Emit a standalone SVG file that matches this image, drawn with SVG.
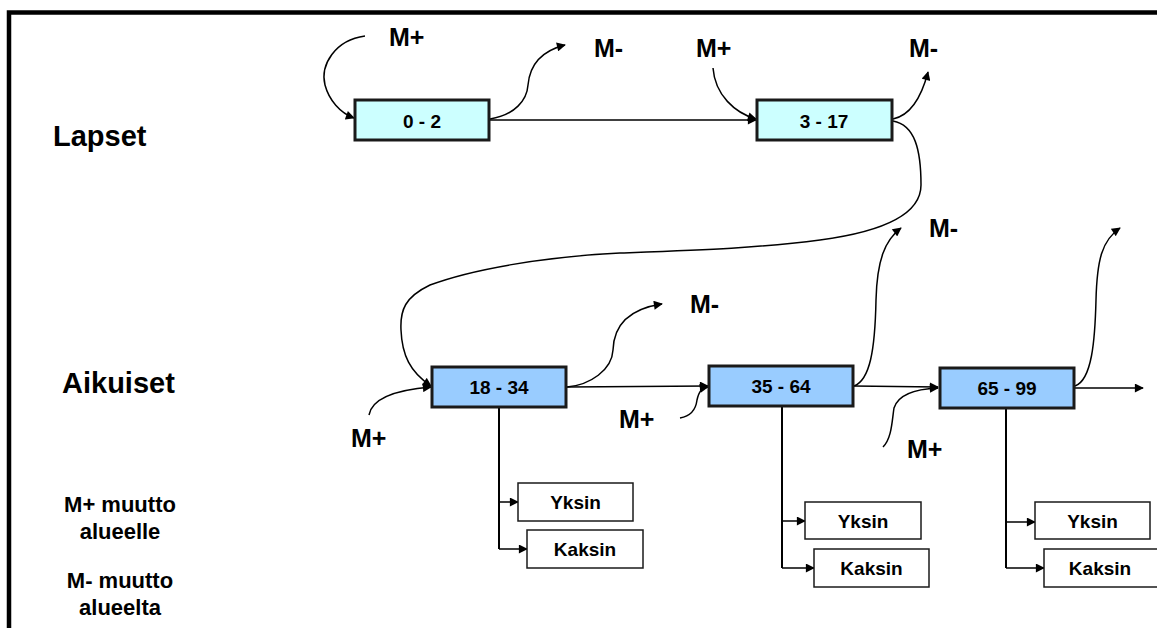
<svg xmlns="http://www.w3.org/2000/svg" width="1157" height="628" viewBox="0 0 1157 628">
<defs>
<marker id="ah" viewBox="0 0 10 10" refX="9" refY="5" markerWidth="10" markerHeight="9" markerUnits="userSpaceOnUse" orient="auto">
<path d="M0,0 L10,5 L0,10 z" fill="#000"/>
</marker>
</defs>
<style>
text{font-family:"Liberation Sans",Arial,sans-serif;font-weight:bold;fill:#000}
.lbl{font-size:29px}
.m{font-size:25px}
.leg{font-size:22px;text-anchor:middle}
.nt{font-size:19px;text-anchor:middle}
.kid{fill:#CCFFFF;stroke:#1a1a1a;stroke-width:3}
.adult{fill:#99CCFF;stroke:#1a1a1a;stroke-width:3}
.sub{fill:#fff;stroke:#1a1a1a;stroke-width:1.5}
.c{fill:none;stroke:#000;stroke-width:1.5;marker-end:url(#ah)}
.v{fill:none;stroke:#000;stroke-width:2}
</style>
<rect x="0" y="0" width="1157" height="628" fill="#fff"/>
<rect x="9" y="12.5" width="1200" height="700" fill="none" stroke="#000" stroke-width="4.5"/>

<text class="lbl" x="53" y="146">Lapset</text>
<text class="lbl" x="62" y="393">Aikuiset</text>
<text class="leg" x="120" y="512">M+ muutto</text>
<text class="leg" x="120" y="539">alueelle</text>
<text class="leg" x="120" y="588">M- muutto</text>
<text class="leg" x="120" y="615">alueelta</text>

<g id="labels">
<text class="m" x="389" y="46">M+</text>
<text class="m" x="594" y="57">M-</text>
<text class="m" x="696" y="57">M+</text>
<text class="m" x="909" y="57">M-</text>
<text class="m" x="929" y="237">M-</text>
<text class="m" x="690" y="313">M-</text>
<text class="m" x="351" y="447">M+</text>
<text class="m" x="619" y="428">M+</text>
<text class="m" x="907" y="458">M+</text>
</g>

<g id="connectors">
<path class="c" d="M365,36 C335,40 320,65 325,85 C329,100 340,113 354,118"/>
<path class="c" d="M490,119 C515,115 527,100 528,85 C530,62 545,50 565,45"/>
<path class="c" d="M490,120 L756,120"/>
<path class="c" d="M713,68 C715,95 735,113 756,119"/>
<path class="c" d="M893,119 C912,115 922,95 928,72"/>
<path class="c" d="M893,121 C915,125 921,150 921,185 C921,215 880,232 820,240 C760,248 700,250 620,253 C540,257 470,270 430,285 C405,297 400,310 401,330 C402,355 410,372 431,386"/>
<path class="c" d="M369,415 C372,398 395,390 431,387"/>
<path class="c" d="M567,387 C590,385 612,370 613,350 C614,320 635,308 662,304"/>
<path class="c" d="M567,387 L708,386"/>
<path class="c" d="M680,418 C692,416 696,408 697,400 C699,391 702,388 708,387"/>
<path class="c" d="M854,386 C870,380 875,350 876,300 C877,260 885,240 901,228"/>
<path class="c" d="M853,386 L938,387"/>
<path class="c" d="M883,447 C892,438 892,420 894,408 C898,395 915,389 938,388"/>
<path class="c" d="M1075,386 C1092,380 1095,340 1096,300 C1097,260 1102,240 1120,228"/>
<path class="c" d="M1075,388 L1143,388"/>
<path class="v" d="M499,407 L499,549"/>
<path class="c" d="M499,502 L518,502"/>
<path class="c" d="M499,549 L527,549"/>
<path class="v" d="M782,406 L782,568"/>
<path class="c" d="M782,521 L805,521"/>
<path class="c" d="M782,568 L814,568"/>
<path class="v" d="M1006,408 L1006,568"/>
<path class="c" d="M1006,522 L1035,522"/>
<path class="c" d="M1006,568 L1044,568"/>
</g>

<g id="n02"><rect class="kid" x="355" y="100" width="134" height="40"/><text class="nt" x="422" y="128">0 - 2</text></g>
<g id="n317"><rect class="kid" x="757" y="100" width="135" height="40"/><text class="nt" x="824" y="128">3 - 17</text></g>
<g id="n1834"><rect class="adult" x="432" y="367" width="134" height="40"/><text class="nt" x="499" y="394">18 - 34</text></g>
<g id="n3564"><rect class="adult" x="709" y="366" width="144" height="40"/><text class="nt" x="781" y="393">35 - 64</text></g>
<g id="n6599"><rect class="adult" x="940" y="368" width="134" height="40"/><text class="nt" x="1007" y="395">65 - 99</text></g>

<g id="y1"><rect class="sub" x="518" y="483" width="115" height="38"/><text class="nt" x="575.5" y="509">Yksin</text></g>
<g id="k1"><rect class="sub" x="527" y="530" width="116" height="38"/><text class="nt" x="585" y="556">Kaksin</text></g>
<g id="y2"><rect class="sub" x="805" y="502" width="116" height="37"/><text class="nt" x="863" y="528">Yksin</text></g>
<g id="k2"><rect class="sub" x="814" y="549" width="115" height="38"/><text class="nt" x="871.5" y="575">Kaksin</text></g>
<g id="y3"><rect class="sub" x="1035" y="502" width="115" height="37"/><text class="nt" x="1092.5" y="528">Yksin</text></g>
<g id="k3"><rect class="sub" x="1044" y="549" width="120" height="38"/><text class="nt" x="1100" y="575">Kaksin</text></g>
</svg>
